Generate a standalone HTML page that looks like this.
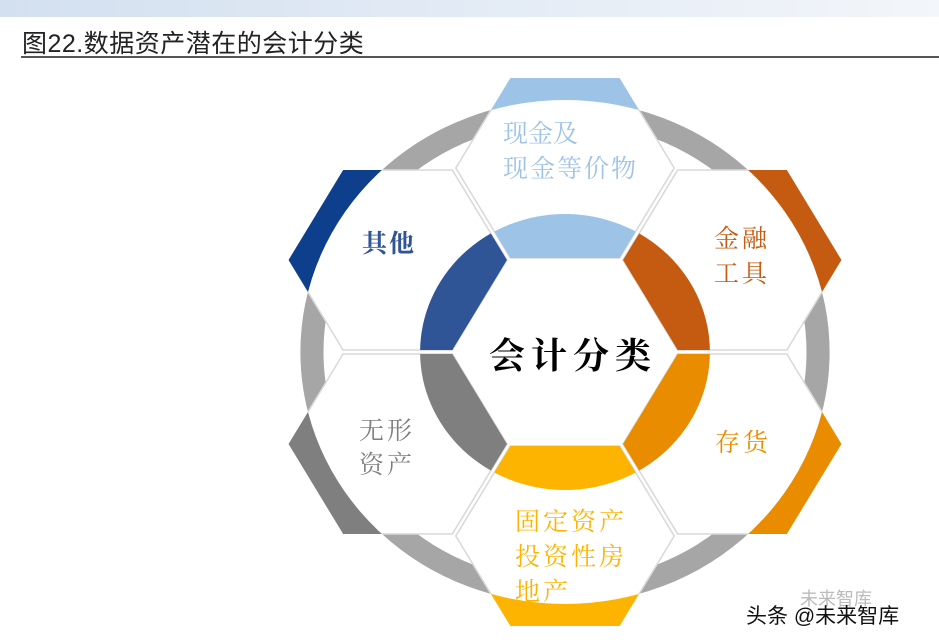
<!DOCTYPE html>
<html><head><meta charset="utf-8"><style>
body{margin:0;width:939px;height:644px;background:#fff;position:relative;overflow:hidden;font-family:"Liberation Sans","Noto Sans CJK SC",sans-serif}
.t{position:absolute;font-family:"Liberation Serif","Noto Serif CJK SC",serif;white-space:nowrap;line-height:1}
</style></head><body>
<div style="position:absolute;left:0;top:0;width:939px;height:17px;background:linear-gradient(90deg,#d3e0f0,#e6edf6 60%,#f3f6fa)"></div>
<div style="position:absolute;left:22px;top:24px;font-size:25px;color:#222;letter-spacing:0.5px">图22.数据资产潜在的会计分类</div>
<div style="position:absolute;left:21px;top:56px;width:918px;height:2px;background:#555"></div>
<svg width="939" height="644" style="position:absolute;left:0;top:0">
<defs>
<polygon id="hT" points="104,-184 52,-94 -52,-94 -104,-184 -52,-274 52,-274"/>
<polygon id="hB" points="104,184 52,94 -52,94 -104,184 -52,274 52,274"/>
<polygon id="hUR" points="263.3,-92 211.3,-2 107.3,-2 55.3,-92 107.3,-182 211.3,-182"/>
<polygon id="hLR" points="263.3,92 211.3,182 107.3,182 55.3,92 107.3,2 211.3,2"/>
<polygon id="hUL" points="-263.3,-92 -211.3,-2 -107.3,-2 -55.3,-92 -107.3,-182 -211.3,-182"/>
<polygon id="hLL" points="-263.3,92 -211.3,182 -107.3,182 -55.3,92 -107.3,2 -211.3,2"/>
<clipPath id="cBig"><circle r="252"/></clipPath>
<clipPath id="cT"><use href="#hT"/></clipPath>
<clipPath id="cB"><use href="#hB"/></clipPath>
<clipPath id="cUR"><use href="#hUR"/></clipPath>
<clipPath id="cLR"><use href="#hLR"/></clipPath>
<clipPath id="cUL"><use href="#hUL"/></clipPath>
<clipPath id="cLL"><use href="#hLL"/></clipPath>
</defs>
<g transform="translate(565,352) scale(1.05,1)">
<circle r="241" fill="none" stroke="#a6a6a6" stroke-width="22"/>
<use href="#hT" fill="#9dc3e6"/>
<use href="#hB" fill="#fdb400"/>
<use href="#hUR" fill="#c55a11"/>
<use href="#hLR" fill="#ea8c00"/>
<use href="#hUL" fill="#0d3f8c"/>
<use href="#hLL" fill="#7f7f7f"/>
<g clip-path="url(#cBig)" fill="#fff" stroke="#d9d9d9" stroke-width="1.5">
<use href="#hT"/><use href="#hB"/><use href="#hUR"/><use href="#hLR"/><use href="#hUL"/><use href="#hLL"/>
</g>
<circle r="138" fill="#9dc3e6" clip-path="url(#cT)"/>
<circle r="138" fill="#fdb400" clip-path="url(#cB)"/>
<circle r="138" fill="#c55a11" clip-path="url(#cUR)"/>
<circle r="138" fill="#ea8c00" clip-path="url(#cLR)"/>
<circle r="138" fill="#2f5597" clip-path="url(#cUL)"/>
<circle r="138" fill="#7f7f7f" clip-path="url(#cLL)"/>
</g>
</svg>
<div class="t" style="left:503px;top:122px;font-size:25px;color:#9dc3e6">现金及</div>
<div class="t" style="left:503px;top:157px;font-size:25px;color:#9dc3e6;letter-spacing:2px">现金等价物</div>
<div class="t" style="left:362px;top:232px;font-size:25px;color:#2f5597;font-weight:bold;letter-spacing:2px">其他</div>
<div class="t" style="left:714px;top:227px;font-size:25px;color:#c55a11;letter-spacing:3px">金融</div>
<div class="t" style="left:714px;top:262px;font-size:25px;color:#c55a11;letter-spacing:3px">工具</div>
<div class="t" style="left:489px;top:338px;font-size:36px;color:#000;font-weight:bold;letter-spacing:6px">会计分类</div>
<div class="t" style="left:359px;top:419px;font-size:25px;color:#7f7f7f;letter-spacing:3px">无形</div>
<div class="t" style="left:359px;top:453px;font-size:25px;color:#7f7f7f;letter-spacing:3px">资产</div>
<div class="t" style="left:715px;top:431px;font-size:25px;color:#ea8c00;letter-spacing:3px">存货</div>
<div class="t" style="left:515px;top:510px;font-size:25px;color:#fdb400;letter-spacing:3px">固定资产</div>
<div class="t" style="left:515px;top:545px;font-size:25px;color:#fdb400;letter-spacing:3px">投资性房</div>
<div class="t" style="left:515px;top:580px;font-size:25px;color:#fdb400;letter-spacing:3px">地产</div>
<div style="position:absolute;left:800px;top:585px;font-size:18px;color:#bbb">未来智库</div>
<div style="position:absolute;left:746px;top:600px;font-size:21px;color:#111">头条 @未来智库</div>
</body></html>
